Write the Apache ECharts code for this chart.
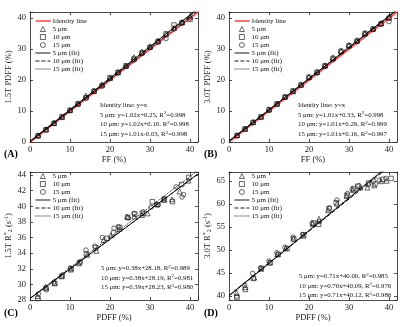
<!DOCTYPE html>
<html>
<head>
<meta charset="utf-8">
<script src="https://cdn.jsdelivr.net/npm/echarts@6/dist/echarts.min.js"></script>
<style>
html, body { margin: 0; padding: 0; background: #fff; }
#container { width: 400px; height: 327px; }
</style>
</head>
<body>
<div id="container"></div>
<script>
// ---- data ----
var sizeNames = ['5 μm', '10 μm', '15 μm'];
var fitNames = ['5 μm (fit)', '10 μm (fit)', '15 μm (fit)'];

var ffX = [2, 4, 6, 8, 10, 12, 14, 16, 18, 20, 22, 24, 26, 28, 30, 32, 34, 36, 38, 40];

// (A) 1.5T PDFF vs FF
var a5 = [2.2, 4.1, 6.2, 8.1, 10.4, 12.5, 15.0, 16.6, 18.6, 20.7, 22.6, 24.7, 27.4, 29.2, 30.9, 32.8, 35.0, 36.9, 38.8, 40.6];
var a10 = [2.0, 3.9, 6.0, 8.2, 10.2, 12.3, 14.3, 16.4, 18.2, 20.8, 22.5, 24.6, 26.8, 28.8, 30.6, 32.4, 34.9, 37.8, 38.5, 39.6];
var a15 = [1.9, 4.0, 6.1, 7.9, 10.1, 12.2, 14.2, 16.3, 18.1, 20.5, 22.3, 24.4, 26.5, 28.6, 30.5, 32.3, 33.4, 36.5, 38.4, 40.0];

// (B) 3.0T PDFF vs FF
var b5 = [2.2, 4.3, 6.5, 8.2, 10.6, 12.4, 14.7, 16.4, 18.6, 21.1, 22.7, 24.8, 27.3, 29.6, 31.4, 32.9, 35.3, 36.6, 38.4, 40.4];
var b10 = [2.1, 4.2, 6.3, 8.1, 10.4, 12.3, 14.5, 16.5, 18.4, 20.9, 22.5, 24.6, 27.0, 29.3, 31.1, 32.6, 35.0, 36.5, 38.2, 40.0];
var b15 = [2.0, 4.1, 6.2, 8.0, 10.2, 12.2, 14.4, 16.3, 18.3, 20.7, 22.3, 24.4, 26.6, 29.0, 30.8, 32.4, 34.7, 36.3, 38.0, 38.9];

// (C) 1.5T R2* vs PDFF
var c5x = [1.9, 3.9, 6.1, 8.0, 10.2, 12.2, 14.3, 16.6, 18.4, 20.2, 22.3, 24.3, 26.1, 28.0, 29.4, 31.6, 33.4, 35.5, 37.4, 39.6];
var c5y = [28.5, 29.7, 30.2, 31.1, 31.9, 32.7, 33.8, 34.3, 35.7, 36.3, 37.1, 38.7, 38.7, 38.9, 39.1, 40.3, 40.9, 40.9, 41.9, 43.3];
var c10x = [2.0, 4.0, 6.2, 7.9, 10.3, 12.4, 14.1, 16.4, 19.3, 20.9, 22.4, 24.4, 26.2, 28.1, 30.6, 31.8, 33.6, 35.6, 37.9, 39.7];
var c10y = [28.2, 29.5, 30.1, 31.0, 32.0, 32.8, 33.9, 34.7, 35.9, 36.6, 37.3, 38.6, 39.0, 39.1, 40.6, 40.2, 40.8, 40.6, 42.8, 43.7];
var c15x = [2.1, 4.1, 6.0, 8.1, 10.1, 12.6, 14.0, 16.2, 18.1, 21.0, 22.1, 24.6, 26.0, 28.3, 30.3, 32.1, 33.5, 36.5, 38.0, 38.4];
var c15y = [28.8, 29.3, 30.3, 31.2, 32.1, 32.9, 34.4, 34.9, 36.0, 37.2, 37.4, 38.5, 39.1, 39.3, 39.9, 40.2, 41.0, 42.5, 41.2, 41.5];

// (D) 3.0T R2* vs PDFF
var d5x = [1.9, 4.0, 6.3, 8.0, 10.1, 12.1, 14.2, 16.1, 18.6, 20.9, 22.5, 24.8, 27.0, 29.4, 31.0, 32.8, 34.6, 36.3, 38.0, 39.4];
var d5y = [40.7, 41.9, 44.0, 45.9, 47.3, 49.1, 50.4, 52.5, 53.1, 55.7, 56.8, 58.7, 60.1, 61.8, 63.1, 63.6, 63.6, 64.1, 65.0, 65.1];
var d10x = [2.0, 4.1, 6.1, 8.1, 10.3, 12.3, 14.5, 16.2, 18.7, 21.1, 22.4, 25.0, 26.8, 29.5, 31.2, 32.2, 34.9, 36.5, 38.4, 40.5];
var d10y = [39.6, 41.4, 43.8, 46.0, 47.2, 49.0, 50.3, 52.4, 53.3, 55.9, 55.6, 59.0, 60.3, 61.9, 63.4, 63.9, 64.6, 64.4, 65.4, 65.6];
var d15x = [1.9, 3.9, 5.9, 7.9, 10.0, 12.0, 14.0, 16.0, 18.4, 20.8, 22.6, 25.1, 27.0, 29.6, 30.8, 32.5, 34.8, 36.1, 37.6, 39.2];
var d15y = [39.9, 42.3, 44.9, 46.1, 47.6, 49.4, 50.6, 52.8, 53.4, 55.8, 56.2, 59.2, 60.9, 62.3, 63.2, 64.0, 64.2, 65.0, 65.2, 65.6];

// fitted lines [slope, intercept] as printed in each panel
var fitA = [[1.02, 0.25], [1.02, 0.10], [1.01, -0.03]];
var fitB = [[1.01, 0.33], [1.01, 0.29], [1.01, 0.16]];
var fitC = [[0.38, 28.18], [0.38, 28.19], [0.39, 28.23]];
var fitD = [[0.71, 40.00], [0.70, 40.09], [0.71, 40.12]];
var fitR2A = ['0.998', '0.998', '0.998'];
var fitR2B = ['0.998', '0.999', '0.997'];
var fitR2C = ['0.989', '0.981', '0.980'];
var fitR2D = ['0.985', '0.976', '0.986'];

var xTicks = [0, 10, 20, 30, 40];

// ---- chart ----
var dom = document.getElementById('container');
var myChart = echarts.init(dom);
var serif = 'Liberation Serif, Times New Roman, serif';

function pairs(xs, ys) {
    var out = [];
    for (var i = 0; i < xs.length; i++) out.push([xs[i], ys[i]]);
    return out;
}
function fitLine(f) {
    return [[0, f[1]], [42, f[0] * 42 + f[1]]];
}
function fmtEq(f) {
    var b = f[1];
    var bs = (b < 0 ? '-' : '+') + Math.abs(b).toFixed(2);
    return 'y=' + f[0].toFixed(2) + 'x' + bs;
}

var grids = [
    {left: 30, top: 12, width: 168, height: 130},
    {left: 229, top: 12, width: 168, height: 130},
    {left: 30, top: 172, width: 168, height: 128},
    {left: 229, top: 172, width: 168, height: 128}
];
var yRanges = [
    {min: 0, max: 42, step: 10},
    {min: 0, max: 42, step: 10},
    {min: 28, max: 44.4, step: 2},
    {min: 39.1, max: 67, step: 5}
];
var xNames = ['FF (%)', 'FF (%)', 'PDFF (%)', 'PDFF (%)'];
var yNames = ['1.5T PDFF (%)', '3.0T PDFF (%)',
    '1.5T R{sup|*}{sub|2} (s{sup|-1})', '3.0T R{sup|*}{sub|2} (s{sup|-1})'];

var axisLine = {show: true, onZero: false, lineStyle: {color: '#222', width: 0.8}};
var tick = {show: true, inside: true, length: 3, lineStyle: {color: '#222', width: 0.8}};
var rich = {
    sup: {fontSize: 6, fontFamily: serif, color: '#222', verticalAlign: 'top', padding: [0, 0, 5, 0]},
    sub: {fontSize: 6, fontFamily: serif, color: '#222', padding: [4, 0, 0, 0]}
};

var xAxes = [], yAxes = [];
for (var g = 0; g < 4; g++) {
    xAxes.push({
        type: 'value', gridIndex: g, min: 0, max: 42, interval: 10, position: 'bottom',
        name: xNames[g], nameLocation: 'middle', nameGap: 12,
        nameTextStyle: {color: '#222', fontFamily: serif, fontSize: 8.5},
        axisLine: axisLine, axisTick: tick, splitLine: {show: false},
        axisLabel: {margin: 3, fontFamily: serif, fontSize: 8.5, color: '#222',
            formatter: function (v) { return xTicks.indexOf(v) >= 0 ? String(v) : ''; }}
    });
}
for (var g = 0; g < 4; g++) {
    xAxes.push({
        type: 'value', gridIndex: g, min: 0, max: 42, interval: 10, position: 'top',
        axisLine: axisLine, axisTick: tick, splitLine: {show: false}, axisLabel: {show: false}
    });
}
for (var g = 0; g < 4; g++) {
    var r = yRanges[g];
    var yAx = {
        type: 'value', gridIndex: g, min: r.min, max: r.max, position: 'left',
        name: yNames[g], nameLocation: 'middle', nameGap: 14,
        nameTextStyle: {color: '#222', fontFamily: serif, fontSize: 8.5, rich: rich},
        axisLine: axisLine, axisTick: tick, splitLine: {show: false},
        axisLabel: {margin: 4, fontFamily: serif, fontSize: 8.5, color: '#222',
            formatter: (function (step) {
                return function (v) { return Math.abs(v / step - Math.round(v / step)) < 1e-6 ? String(v) : ''; };
            })(r.step)}
    };
    if (r.min % r.step === 0) yAx.interval = r.step; else yAx.splitNumber = 5;
    yAxes.push(yAx);
}
for (var g = 0; g < 4; g++) {
    var r = yRanges[g];
    var yAx2 = {
        type: 'value', gridIndex: g, min: r.min, max: r.max, position: 'right',
        axisLine: axisLine, axisTick: tick, splitLine: {show: false}, axisLabel: {show: false}
    };
    if (r.min % r.step === 0) yAx2.interval = r.step; else yAx2.splitNumber = 5;
    yAxes.push(yAx2);
}

var symbols = ['triangle', 'rect', 'circle'];
var symSizes = [5, 4.5, 4.5];
var dashes = ['solid', [4, 2], [1, 1]];
var scatterData = [
    [pairs(ffX, a5), pairs(ffX, a10), pairs(ffX, a15)],
    [pairs(ffX, b5), pairs(ffX, b10), pairs(ffX, b15)],
    [pairs(c5x, c5y), pairs(c10x, c10y), pairs(c15x, c15y)],
    [pairs(d5x, d5y), pairs(d10x, d10y), pairs(d15x, d15y)]
];
var fits = [fitA, fitB, fitC, fitD];
var r2s = [fitR2A, fitR2B, fitR2C, fitR2D];
var hollow = {color: 'rgba(0,0,0,0)', borderColor: '#111', borderWidth: 0.8};

var series = [];
for (var g = 0; g < 2; g++) {
    series.push({
        name: 'Identity line', type: 'line', xAxisIndex: g, yAxisIndex: g,
        data: [[0, 0], [42, 42]], showSymbol: false, symbol: 'none', clip: true,
        lineStyle: {color: '#ff4b4b', width: 1.6}, itemStyle: {color: '#ff4b4b'}, z: 2
    });
}
for (var g = 0; g < 4; g++) {
    for (var s = 0; s < 3; s++) {
        series.push({
            name: sizeNames[s], type: 'scatter', xAxisIndex: g, yAxisIndex: g,
            data: scatterData[g][s], symbol: symbols[s], symbolSize: symSizes[s],
            itemStyle: hollow, z: 3
        });
    }
    for (var s = 0; s < 3; s++) {
        series.push({
            name: fitNames[s], type: 'line', xAxisIndex: g, yAxisIndex: g,
            data: fitLine(fits[g][s]), showSymbol: false, symbol: 'none', clip: true,
            lineStyle: {color: '#000', width: 0.9, type: dashes[s]}, itemStyle: {color: '#000'}, z: 4
        });
    }
}

// legends: one block for lines (wide icon), one for markers (small icon)
var noSymbol = {color: 'rgba(0,0,0,0)', borderWidth: 0, opacity: 0};
var markerItems = sizeNames.map(function (n, i) {
    return {name: n, icon: symbols[i], itemStyle: hollow};
});
var lineItems = fitNames.map(function (n, i) {
    return {name: n, itemStyle: noSymbol, lineStyle: {color: '#000', width: 0.9, type: dashes[i]}};
});
var identityItem = {name: 'Identity line', itemStyle: noSymbol, lineStyle: {color: '#ff4b4b', width: 1.6}};

var legendBase = {
    orient: 'vertical', itemHeight: 5, itemGap: 0, padding: 0, selectedMode: false,
    textStyle: {fontFamily: serif, fontSize: 7, color: '#111', lineHeight: 8}
};
function lineLegend(left, top, items) {
    return Object.assign({}, legendBase, {left: left, top: top, itemWidth: 15, data: items,
        textStyle: Object.assign({}, legendBase.textStyle, {padding: [0, 0, 0, -3]})});
}
function markerLegend(left, top) {
    return Object.assign({}, legendBase, {left: left + 5, top: top, itemWidth: 5, data: markerItems,
        textStyle: Object.assign({}, legendBase.textStyle, {padding: [0, 0, 0, 2]})});
}
var rowH = 8;
var legends = [
    lineLegend(35, 17, [identityItem]),
    markerLegend(35, 17 + rowH),
    lineLegend(35, 17 + 4 * rowH, lineItems),
    lineLegend(234, 17, [identityItem]),
    markerLegend(234, 17 + rowH),
    lineLegend(234, 17 + 4 * rowH, lineItems),
    markerLegend(35, 172),
    lineLegend(35, 172 + 3 * rowH, lineItems),
    markerLegend(234, 172),
    lineLegend(234, 172 + 3 * rowH, lineItems)
];

// annotation text and panel letters
var textRich = {
    sup: {fontSize: 5, fontFamily: serif, fill: '#111', verticalAlign: 'top', padding: [0, 0, 4, 0]}
};
var annPos = [
    {x: 100, y: 106, identity: true},
    {x: 298, y: 106, identity: true},
    {x: 101, y: 269, identity: false},
    {x: 299, y: 277, identity: false}
];
var graphics = [];
var letters = ['(A)', '(B)', '(C)', '(D)'];
var letterPos = [[4, 155], [204, 155], [4, 314], [204, 314]];
for (var g = 0; g < 4; g++) {
    var p = annPos[g];
    var y0 = p.y;
    if (p.identity) {
        graphics.push({type: 'text', left: p.x, top: y0 - 4,
            style: {text: 'Identity line: y=x', font: '6.8px ' + serif, fill: '#111'}});
        y0 += 9.5;
    }
    for (var s = 0; s < 3; s++) {
        graphics.push({type: 'text', left: p.x, top: y0 + s * 9.6 - 5,
            style: {text: sizeNames[s] + ': ' + fmtEq(fits[g][s]) + ', R{sup|2}=' + r2s[g][s],
                font: '6.8px ' + serif, fill: '#111', rich: textRich}});
    }
    graphics.push({type: 'text', left: letterPos[g][0], top: letterPos[g][1] - 6,
        style: {text: letters[g], font: 'bold 10px ' + serif, fill: '#000'}});
}

var option = {
    backgroundColor: '#fff',
    animation: false,
    grid: grids,
    xAxis: xAxes,
    yAxis: yAxes,
    legend: legends,
    series: series,
    graphic: graphics
};
myChart.setOption(option, true);
</script>
</body>
</html>
